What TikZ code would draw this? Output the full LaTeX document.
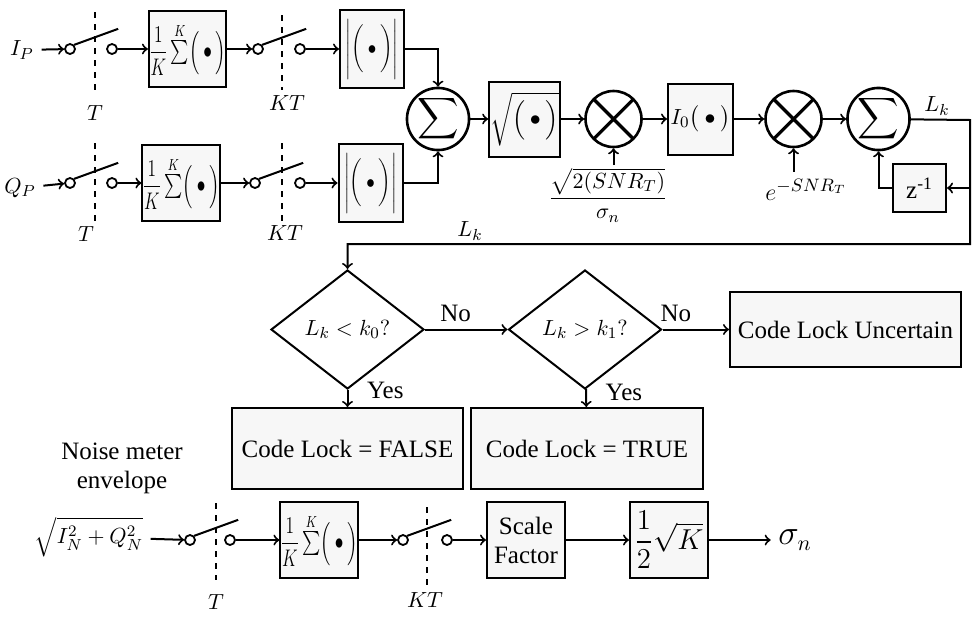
\documentclass[tikz,border=0pt]{standalone}
\usepackage{amsmath}
\usepackage{graphicx}
\usepackage{fontspec}
\setmainfont{Liberation Serif}
\usetikzlibrary{positioning,shapes.geometric}
\begin{document}
\begin{tikzpicture}[x=0.5pt, y=-0.5pt, node distance=20pt, auto, >=to, line width=1pt,
    every node/.style={font=\fontsize{11}{13}\selectfont}]
    \tikzstyle{txt} = [font=\fontsize{12.5}{14.5}\selectfont]
    \tikzstyle{block} = [draw, rectangle, fill=black!3, inner sep=0.5pt, minimum width=38.5pt, minimum height=38pt]
    \tikzstyle{avg} = [block, inner sep=0pt, font=\fontsize{12}{14}\selectfont]
    \tikzstyle{absval} = [block, minimum width=32pt, minimum height=39pt, font=\fontsize{10}{12}\selectfont]
    \tikzstyle{sum} = [draw, circle, fill=white, line width=1.3pt, inner sep=0pt, minimum size=28pt, font=\fontsize{14}{16}\selectfont]
    \tikzstyle{mult} = [sum, path picture={\draw [line width=1.6pt] (path picture bounding box.north west) -- (path picture bounding box.south east) (path picture bounding box.north east) -- (path picture bounding box.south west);}]
    \tikzstyle{contact} = [draw, circle, inner sep=0pt, minimum size=5pt, line width=0.9pt]
    \tikzstyle{clock} = [dashed, line width=0.9pt]
    \tikzstyle{decision} = [draw, diamond, aspect=1.3, inner sep=0pt, minimum width=76.5pt, minimum height=59.5pt]

    \useasboundingbox (0,0) rectangle (978,616);

    % in-phase branch
    \node (ip) at (22,50) {$I_P$};
    \node [contact] (ia) at (70,49) {};
    \node [contact, right of=ia, node distance=21pt] (ib) {};
    \node [avg, right of=ib, node distance=37.75pt] (iavg) {\scalebox{0.72}[1]{$\dfrac{1}{K}\textstyle\sum\limits^{K}\!\Big(\bullet\Big)$}};
    \node [contact, right of=iavg, node distance=35.25pt] (ic) {};
    \node [contact, right of=ic, node distance=21pt] (id) {};
    \node [absval, right of=id, node distance=36pt] (iabs) {\scalebox{0.85}[1]{$\Bigg|\bigg(\bullet\bigg)\Bigg|$}};

    % quadrature branch
    \node (qp) at (20,188) {$Q_P$};
    \node [contact] (qa) at (70,183) {};
    \node [contact, right of=qa, node distance=21pt] (qb) {};
    \node [avg, right of=qb, node distance=34.5pt] (qavg) {\scalebox{0.72}[1]{$\dfrac{1}{K}\textstyle\sum\limits^{K}\!\Big(\bullet\Big)$}};
    \node [contact, right of=qavg, node distance=37pt] (qc) {};
    \node [contact, right of=qc, node distance=22.5pt] (qd) {};
    \node [absval, right of=qd, node distance=35.25pt] (qabs) {\scalebox{0.85}[1]{$\Bigg|\bigg(\bullet\bigg)\Bigg|$}};

    % likelihood chain
    \node [sum] (sum1) at (438,119) {$\displaystyle\sum$};
    \node [block, right of=sum1, node distance=43.25pt, minimum width=32.5pt, minimum height=37.5pt] (root) {$\sqrt{\Big(\bullet\Big)}$};
    \node [mult, right of=root, node distance=44.5pt] (mult1) {};
    \node [block, right of=mult1, node distance=43.5pt, minimum width=32.5pt, minimum height=35.5pt] (bessel) {$I_0\big(\bullet\big)$};
    \node [mult, right of=bessel, node distance=46.5pt] (mult2) {};
    \node [sum, right of=mult2, node distance=42.5pt] (sum2) {$\displaystyle\sum$};
    \node [block, txt, minimum width=26.5pt, minimum height=24pt] (delay) at (919.5,188) {z\textsuperscript{-1}};
    \node [inner sep=1pt, font=\fontsize{11}{13}\selectfont] (gain) at (608,195) {$\dfrac{\sqrt{2(SNR_T)}}{\sigma_n}$};
    \node [font=\fontsize{13}{15}\selectfont] (atten) at (806,190) {$e^{-SNR_T}$};
    \node (lkout) at (937,106) {$L_k$};
    \node (lkin) at (470,231) {$L_k$};
    \coordinate (fb) at (970,120);
    \coordinate (lk) at (347.5,244);

    % lock decision
    \node [decision] (test0) at (347.5,329.5) {$L_k < k_0?$};
    \node [decision, right of=test0, node distance=118.75pt] (test1) {$L_k > k_1?$};
    \node [block, txt, right of=test1, node distance=130.25pt, minimum width=115.5pt, minimum height=37.5pt] (unsure) {Code Lock Uncertain};
    \node [block, txt, below of=test0, node distance=59.5pt, minimum width=115.5pt, minimum height=40.5pt] (unlocked) {Code Lock = FALSE};
    \node [block, txt, below of=test1, node distance=59.5pt, minimum width=116pt, minimum height=40.5pt, xshift=1pt] (locked) {Code Lock = TRUE};

    % noise meter
    \node [txt, align=center] (nmlabel) at (122,468) {Noise meter\\envelope};
    \node (nm) at (89,537) {$\sqrt{I_N^2+Q_N^2}$};
    \node [contact] (na) at (190,540) {};
    \node [contact, right of=na, node distance=20pt] (nb) {};
    \node [avg, right of=nb, node distance=44.5pt] (navg) {\scalebox{0.72}[1]{$\dfrac{1}{K}\textstyle\sum\limits^{K}\!\Big(\bullet\Big)$}};
    \node [contact, right of=navg, node distance=42pt] (nc) {};
    \node [contact, right of=nc, node distance=22pt] (nd) {};
    \node [block, txt, right of=nd, node distance=39.5pt, align=center, minimum width=39pt] (scale) {Scale\\Factor};
    \node [block, right of=scale, node distance=71.5pt, minimum width=39pt, font=\fontsize{14}{16}\selectfont] (half) {$\dfrac{1}{2}\sqrt{K}$};
    \node [right of=half, node distance=63pt, font=\fontsize{16}{18}\selectfont] (sigma) {$\sigma_n$};

    % sampling clocks
    \draw [clock] (95,12) -- (95,90);
    \node (t1) at (95,113) {$T$};
    \draw [clock] (282,15) -- (282,90);
    \node (kt1) at (287,103) {$KT$};
    \draw [clock] (95,143) -- (95,225);
    \node (t2) at (86,234) {$T$};
    \draw [clock] (282,143) -- (282,225);
    \node (kt2) at (285,233) {$KT$};
    \draw [clock] (216,503) -- (216,580);
    \node (t3) at (216,602) {$T$};
    \draw [clock] (427,507) -- (427,587);
    \node (kt3) at (425,600) {$KT$};

    \draw [->] (ip) -- (ia);
    \draw (ia.north east) -- ++(44,-16);
    \draw [->] (ib) -- (iavg);
    \draw [->] (iavg) -- (ic);
    \draw (ic.north east) -- ++(44,-16);
    \draw [->] (id) -- (iabs);
    \draw [->] (iabs) -| (sum1);

    \draw [->] (qp) -- (qa);
    \draw (qa.north east) -- ++(44,-16);
    \draw [->] (qb) -- (qavg);
    \draw [->] (qavg) -- (qc);
    \draw (qc.north east) -- ++(44,-16);
    \draw [->] (qd) -- (qabs);
    \draw [->] (qabs) -| (sum1);

    \draw [->] (sum1) -- (root);
    \draw [->] (root) -- (mult1);
    \draw [->] (mult1) -- (bessel);
    \draw [->] (bessel) -- (mult2);
    \draw [->] (mult2) -- (sum2);
    \draw [->] (gain.north -| mult1) -- (mult1);
    \draw [->] (atten.north -| mult2) -- (mult2);
    \draw [->] (sum2) -- (fb) |- (lk) -- (test0);
    \draw [->] (fb |- delay) -- (delay);
    \draw [->] (delay) -| (sum2);

    \draw [->] (test0) -- node [txt, above, pos=0.37] (no0) {No} (test1);
    \draw [->] (test1) -- node [txt, above, pos=0.2] (no1) {No} (unsure);
    \draw [->] (test0) -- node [txt, right, pos=0, xshift=6pt] (yes0) {Yes} (unlocked);
    \draw [->] (test1) -- node [txt, right, pos=0.2, xshift=6pt] (yes1) {Yes} (locked);

    \draw [->] (nm) -- (na);
    \draw (na.north east) -- ++(44,-16);
    \draw [->] (nb) -- (navg);
    \draw [->] (navg) -- (nc);
    \draw (nc.north east) -- ++(44,-16);
    \draw [->] (nd) -- (scale);
    \draw [->] (scale) -- (half);
    \draw [->] (half) -- (sigma);
\end{tikzpicture}
\end{document}
